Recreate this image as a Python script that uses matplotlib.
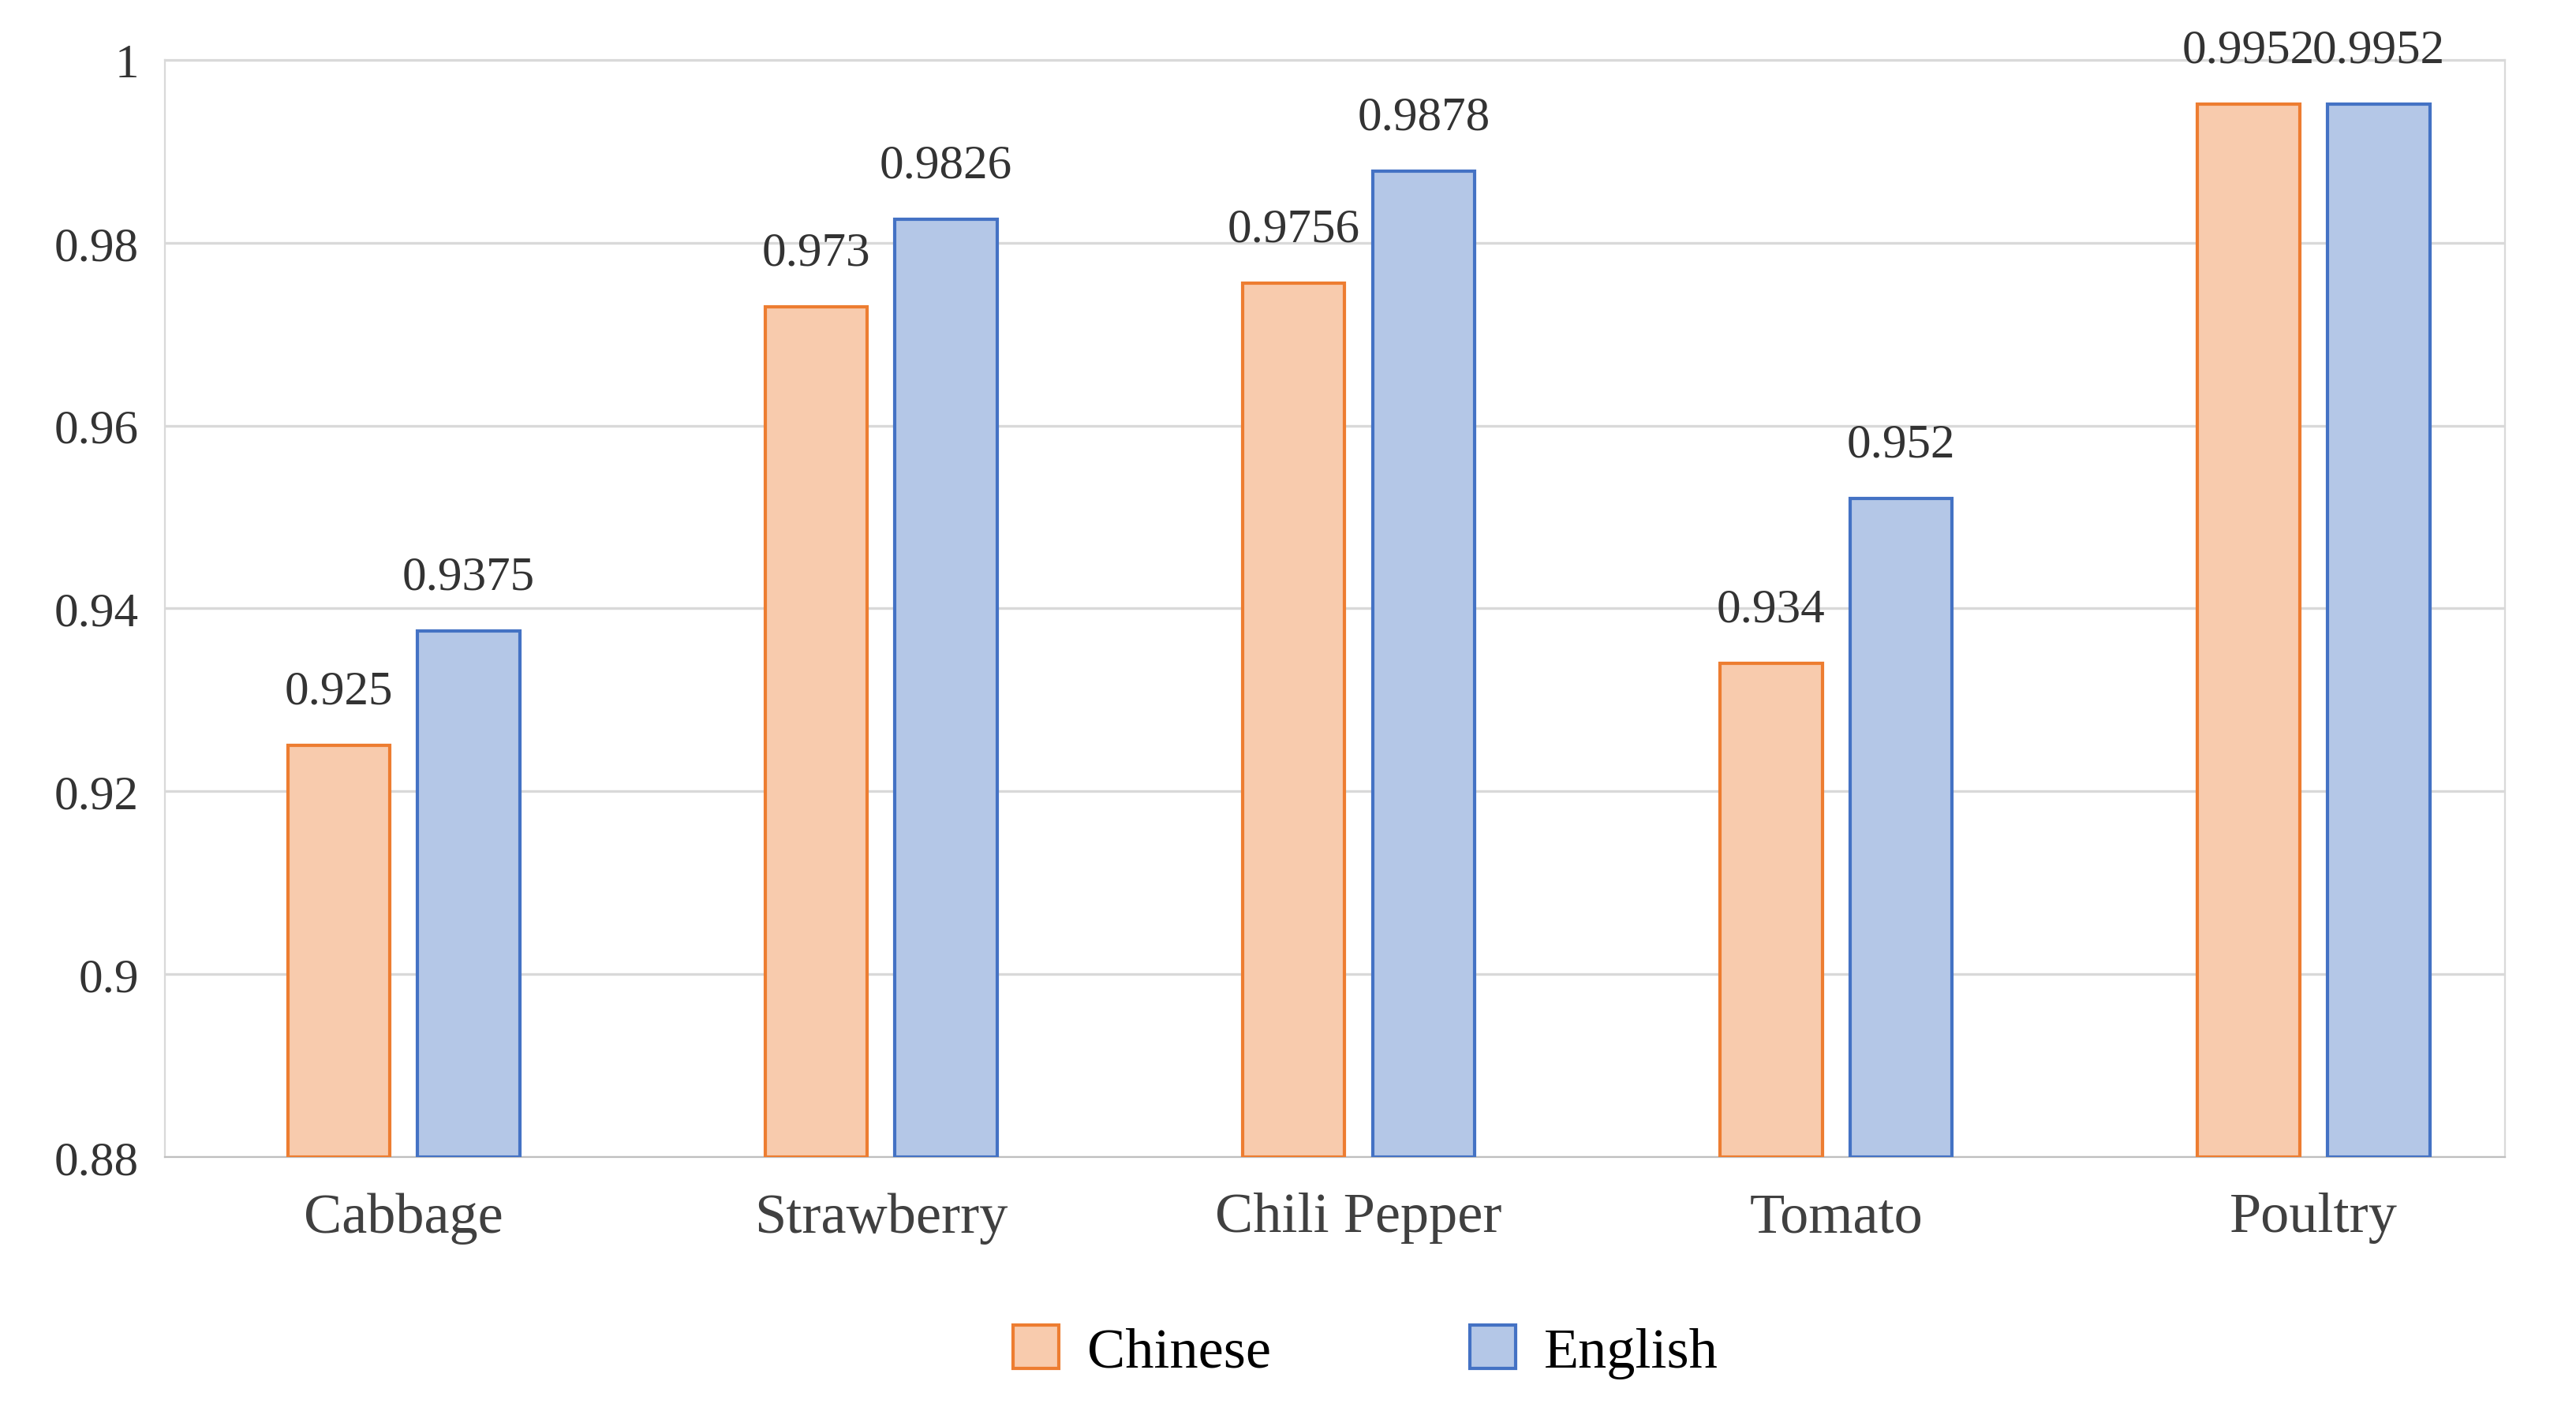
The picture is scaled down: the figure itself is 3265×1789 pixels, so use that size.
import matplotlib.pyplot as plt
import numpy as np

categories = ['Cabbage', 'Strawberry', 'Chili Pepper', 'Tomato', 'Poultry']
chinese = [0.925, 0.973, 0.9756, 0.934, 0.9952]
english = [0.9375, 0.9826, 0.9878, 0.952, 0.9952]
chinese_labels = ['0.925', '0.973', '0.9756', '0.934', '0.9952']
english_labels = ['0.9375', '0.9826', '0.9878', '0.952', '0.9952']
yticks = [0.88, 0.9, 0.92, 0.94, 0.96, 0.98, 1.0]
ytick_labels = ['0.88', '0.9', '0.92', '0.94', '0.96', '0.98', '1']

plt.rcParams['font.family'] = ['Liberation Serif', 'DejaVu Serif']

fig = plt.figure(figsize=(16.33, 8.95), dpi=200)
ax = fig.add_axes([0.064, 0.18, 0.908, 0.777])

x = np.arange(len(categories))
w = 0.214
off = 0.136
b1 = ax.bar(x - off, np.array(chinese) - 0.88, w, bottom=0.88, color='#F8CBAD',
            edgecolor='#ED7D31', linewidth=1.5, label='Chinese', zorder=3)
b2 = ax.bar(x + off, np.array(english) - 0.88, w, bottom=0.88, color='#B4C7E7',
            edgecolor='#4472C4', linewidth=1.5, label='English', zorder=3)

for i in range(len(categories)):
    ax.text(x[i] - off, chinese[i] + 0.0035, chinese_labels[i], ha='center', va='bottom',
            fontsize=22, color='#333333')
    ax.text(x[i] + off, english[i] + 0.0035, english_labels[i], ha='center', va='bottom',
            fontsize=22, color='#333333')

ax.set_ylim(0.88, 1.0)
ax.set_xlim(-0.5, 4.4)
ax.set_yticks(yticks)
ax.set_yticklabels(ytick_labels, fontsize=22, color='#333333')
ax.set_xticks(x)
ax.set_xticklabels(categories, fontsize=26, color='#404040')
ax.tick_params(length=0, pad=12)
ax.tick_params(axis='x', pad=16)
ax.grid(axis='y', color='#D9D9D9', linewidth=1.2, zorder=0)
for s in ['top', 'right', 'left']:
    ax.spines[s].set_color('#D9D9D9')
ax.spines['bottom'].set_color('#BFBFBF')

fig.legend(handles=[b1, b2], loc='center', bbox_to_anchor=(0.53, 0.042), ncol=2,
           frameon=False, fontsize=26, handlelength=0.8, handleheight=0.8,
           columnspacing=3.5, handletextpad=0.5)

fig.savefig('out.png', dpi=200)
